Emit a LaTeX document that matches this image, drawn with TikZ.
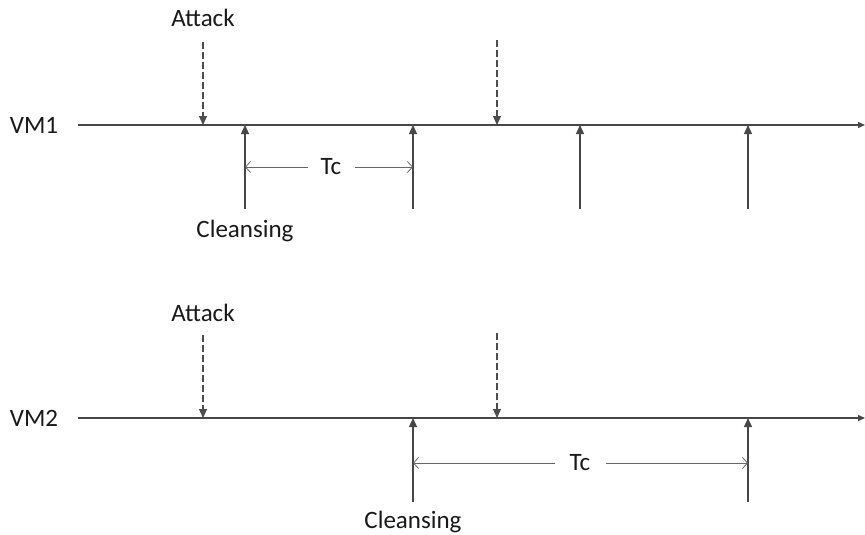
\documentclass[tikz,border=0pt]{standalone}
\usepackage{fontspec}
\setmainfont{Carlito}
\usetikzlibrary{arrows.meta}
\tikzstyle{axis}=[-{Triangle[length=7pt,width=6pt]},line width=1.3pt,draw=black!72]
\tikzstyle{attack}=[-{Triangle[length=9pt,width=8pt]},line width=1.1pt,
			  dash pattern=on 7pt off 3pt,draw=black!70]
\tikzstyle{cleanse}=[-{Triangle[length=9pt,width=8pt]},line width=1.3pt,draw=black!72]
\tikzstyle{period}=[-{Straight Barb[length=5pt,width=11pt]},line width=0.8pt,draw=black!60]
\tikzstyle{label}=[inner sep=0pt,text=black!90,font=\fontsize{25}{29}\selectfont]

\begin{document}
\begin{tikzpicture}[x=1pt,y=-1pt]
	\useasboundingbox (0,0) rectangle (865,535);

	% VM1 time line
	\node[label] (vm1) at (34,125) {VM1};
	\coordinate (vm1start) at (78,125);
	\coordinate (vm1end) at (865,125);
	\draw[axis] (vm1start) -- (vm1end);

	\node[label] (att1) at (203,18) {Attack};
	\coordinate (att1top) at (203,42);
	\coordinate (hit1) at (203,125);
	\coordinate (att2top) at (497,40);
	\coordinate (hit2) at (497,125);
	\draw[attack] (att1top) -- (hit1);
	\draw[attack] (att2top) -- (hit2);

	\foreach \x/\n in {245/c1,413/c2,580/c3,748/c4} {
		\coordinate (\n) at (\x,125);
		\coordinate (\n foot) at (\x,209);
		\draw[cleanse] (\n foot) -- (\n);
	}
	\node[label] (cl1) at (245,231) {Cleansing};

	\node[label,inner xsep=13pt] (tc1) at (331,167) {Tc};
	\draw[period] (tc1.west) -- (c1 |- tc1);
	\draw[period] (tc1.east) -- (c2 |- tc1);

	% VM2 time line
	\node[label] (vm2) at (34,418) {VM2};
	\coordinate (vm2start) at (78,418);
	\coordinate (vm2end) at (865,418);
	\draw[axis] (vm2start) -- (vm2end);

	\node[label] (att3) at (203,313) {Attack};
	\coordinate (att3top) at (203,335);
	\coordinate (hit3) at (203,418);
	\coordinate (att4top) at (497,333);
	\coordinate (hit4) at (497,418);
	\draw[attack] (att3top) -- (hit3);
	\draw[attack] (att4top) -- (hit4);

	\foreach \x/\n in {413/d1,748/d2} {
		\coordinate (\n) at (\x,418);
		\coordinate (\n foot) at (\x,502);
		\draw[cleanse] (\n foot) -- (\n);
	}
	\node[label] (cl2) at (413,522) {Cleansing};

	\node[label,inner xsep=15pt] (tc2) at (580,463) {Tc};
	\draw[period] (tc2.west) -- (d1 |- tc2);
	\draw[period] (tc2.east) -- (d2 |- tc2);

\end{tikzpicture}
\end{document}
